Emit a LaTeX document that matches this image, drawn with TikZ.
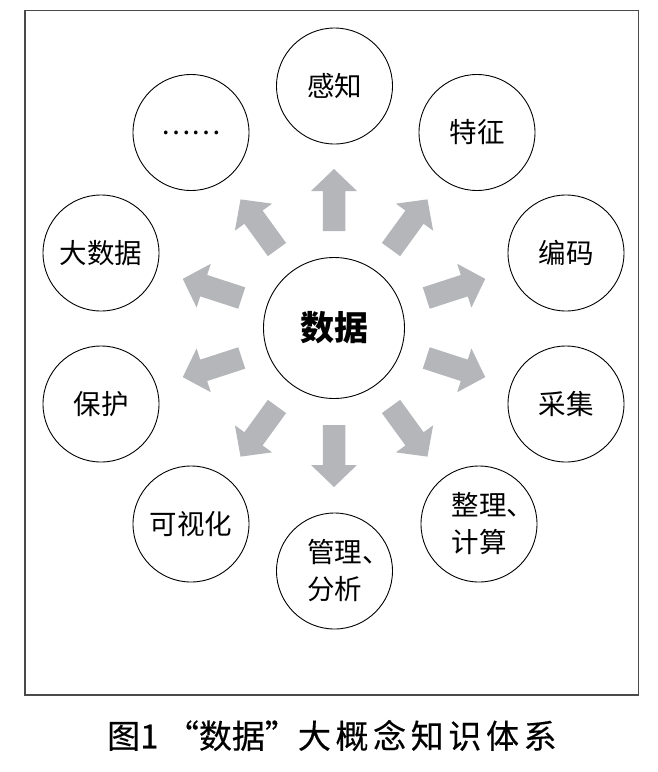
\documentclass[tikz,border=0pt]{standalone}
\usepackage{fontspec}
\newfontfamily\cjk{Noto Sans CJK SC}
\newfontfamily\capfont[FakeBold=0.3]{Noto Sans CJK SC}
\definecolor{arrowgray}{HTML}{B5B6BA}
\definecolor{framegray}{HTML}{4A4A4A}
\begin{document}
\begin{tikzpicture}[x=1pt,y=-1pt,
  topic/.style={circle,draw=black,line width=0.9pt,minimum size=116pt,inner sep=0pt,
    font=\cjk\fontsize{27.5}{37}\selectfont,align=left},
  hub/.style={circle,draw=black,line width=0.9pt,minimum size=141pt,inner sep=0pt,
    font=\cjk\bfseries\fontsize{34}{40}\selectfont},
  blockarrow/.style={fill=arrowgray,draw=none},
  caption/.style={font=\capfont\fontsize{33}{36}\selectfont,inner sep=0pt,anchor=west}]
\useasboundingbox (0,0) rectangle (657,772);
\fill[white] (0,0) rectangle (657,772);
\draw[framegray,line width=1.2pt] (25,10.5) rectangle (638.5,695);
\node[hub] (c) at (334,328) {数据};
\node[topic] (n1) at (334.5,86) {感知};
\node[topic] (n2) at (477,132.5) {特征};
\node[topic] (n3) at (566,253) {编码};
\node[topic] (n4) at (566,404) {采集};
\node[topic] (n5) at (479,524) {整理\rlap{、}\\计算};
\node[topic] (n6) at (334.5,571) {管理\rlap{、}\\分析};
\node[topic] (n7) at (191,524) {可视化};
\node[topic] (n8) at (101,404) {保护};
\node[topic] (n9) at (101,253) {大数据};
\node[topic] (n10) at (191,132.5) {……};
\foreach \a in {90,54,18,-18,-54,-90,-126,-162,162,126}{
  \begin{scope}[shift={(334,328)},rotate=\a]
    \fill[blockarrow] (97,-11.25) -- (137,-11.25) -- (137,-23) -- (159,0)
      -- (137,23) -- (137,11.25) -- (97,11.25) -- cycle;
  \end{scope}
}
\node[caption] (cap) at (107,735.5) {图1 “数据”{\addfontfeature{LetterSpace=14}大概念知识体系}};
\end{tikzpicture}
\end{document}
